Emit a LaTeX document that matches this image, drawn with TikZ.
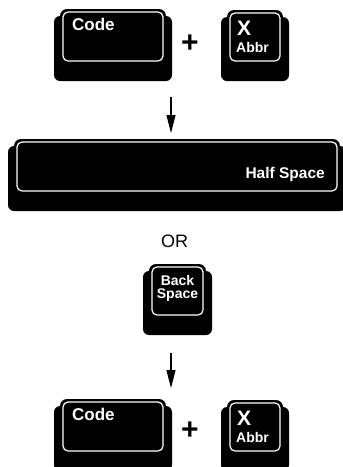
\documentclass[tikz,border=0pt]{standalone}
\usepackage{fontspec}
\setmainfont{Liberation Sans}
\usetikzlibrary{arrows.meta}
\tikzset{
  keybase/.style={fill=black, rounded corners=6pt},
  keyface/.style={fill=black, rounded corners=7pt},
  keyrim/.style={draw=white, line width=1.2pt, rounded corners=5pt},
  keylabel/.style={text=white, inner sep=0pt},
  plainlabel/.style={text=black, inner sep=0pt},
  flow/.style={line width=1.1pt, -{Triangle[length=18pt,width=9pt]}},
}
% a keycap: body below, top face with a white rim; arguments are the face corners
\newcommand\keycap[4]{%
  \fill[keybase] (#1-6,#2+7) rectangle (#3+6,#4+17);
  \fill[keyface] (#1,#2) rectangle (#3,#4);
  \draw[keyrim] (#1+3,#2+3) rectangle (#3-3,#4-3);
}
\newcommand\bsize[1]{\bfseries\fontsize{#1}{#1}\selectfont}
\begin{document}
\begin{tikzpicture}[x=1pt,y=-1pt]
\useasboundingbox (0,0) rectangle (343,467);

% first chord: Code + X
\keycap{60}{9}{166}{64}
\keycap{227}{10}{283}{64}
\node[keylabel, anchor=base west, font=\bsize{17}] (codeA) at (72,30) {Code};
\node[keylabel, anchor=base west, font=\bsize{21}] (xA) at (237,35) {X};
\node[keylabel, anchor=base west, font=\bsize{14}] (abbrA) at (236,52) {Abbr};
\node[plainlabel, font=\bsize{30}] (plusA) at (190,44) {+};

% half space bar
\keycap{14}{139}{340}{194}
\node[keylabel, anchor=base east, font=\bsize{15.5}] (half) at (325,178) {Half Space};

\node[plainlabel, anchor=base, font=\fontsize{18}{18}\selectfont] (or) at (174.5,247) {OR};

% back space key
\keycap{149}{264}{206}{318}
\node[keylabel, anchor=base, font=\bsize{14}] (back) at (177.5,285) {Back};
\node[keylabel, anchor=base, font=\bsize{14}] (space) at (177.5,298) {Space};

% second chord: Code + X
\keycap{60}{399}{166}{454}
\keycap{227}{400}{283}{454}
\node[keylabel, anchor=base west, font=\bsize{17}] (codeB) at (72,420) {Code};
\node[keylabel, anchor=base west, font=\bsize{21}] (xB) at (237,425) {X};
\node[keylabel, anchor=base west, font=\bsize{14}] (abbrB) at (236,442) {Abbr};
\node[plainlabel, font=\bsize{30}] (plusB) at (190,431) {+};

% flow arrows
\coordinate (f1s) at (171,97);
\coordinate (f1e) at (171,133);
\coordinate (f2s) at (171,353);
\coordinate (f2e) at (171,388);
\draw[flow] (f1s) -- (f1e);
\draw[flow] (f2s) -- (f2e);
\end{tikzpicture}
\end{document}
